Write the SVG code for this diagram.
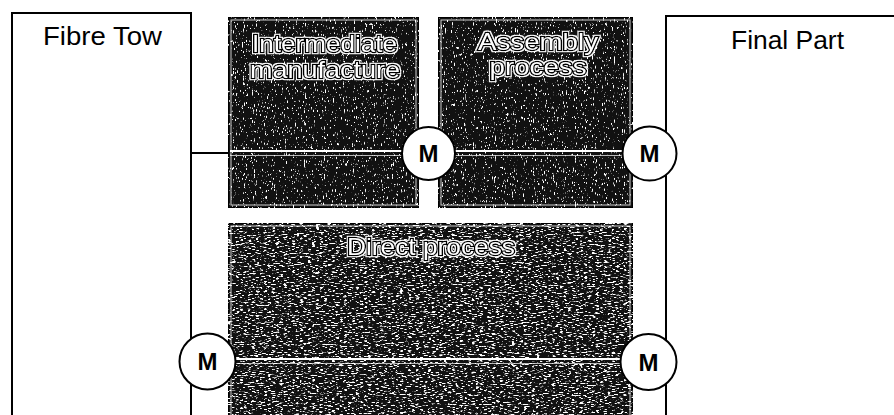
<svg xmlns="http://www.w3.org/2000/svg" width="894" height="415" viewBox="0 0 894 415">
<defs>
<filter id="grain" x="0" y="0" width="100%" height="100%" color-interpolation-filters="sRGB">
<feTurbulence type="fractalNoise" baseFrequency="0.9 0.3" numOctaves="2" seed="4" result="n"/>
<feColorMatrix in="n" type="matrix" values="0 0 0 0 1  0 0 0 0 1  0 0 0 0 1  10 0 0 0 -6.3" result="w"/>
<feComposite in="w" in2="SourceGraphic" operator="in" result="wc"/>
<feMerge><feMergeNode in="SourceGraphic"/><feMergeNode in="wc"/></feMerge>
</filter>
<filter id="grain2" x="0" y="0" width="100%" height="100%" color-interpolation-filters="sRGB">
<feTurbulence type="fractalNoise" baseFrequency="0.25 0.9" numOctaves="2" seed="9" result="n"/>
<feColorMatrix in="n" type="matrix" values="0 0 0 0 1  0 0 0 0 1  0 0 0 0 1  9 0 0 0 -5.0" result="w"/>
<feComposite in="w" in2="SourceGraphic" operator="in" result="wc"/>
<feMerge><feMergeNode in="SourceGraphic"/><feMergeNode in="wc"/></feMerge>
</filter>
<filter id="halo" x="-5%" y="-20%" width="110%" height="140%">
<feMorphology in="SourceAlpha" operator="dilate" radius="1.3" result="d"/>
<feFlood flood-color="#fff"/>
<feComposite in2="d" operator="in" result="h"/>
<feMerge><feMergeNode in="h"/><feMergeNode in="SourceGraphic"/></feMerge>
</filter>
</defs>
<style>
.plain{fill:#fff;stroke:#000;stroke-width:2}
.dark{fill:#111;stroke:#000;stroke-width:2}
.inner{fill:none;stroke:#fff;stroke-width:1;opacity:0.8}
.lbl{font-family:"Liberation Sans",Arial,sans-serif;font-size:25px;fill:#000;text-anchor:middle}
.wl{font-family:"Liberation Sans",Arial,sans-serif;font-size:24px;fill:#fff;stroke:#000;stroke-width:2.6;paint-order:stroke;text-anchor:middle;filter:url(#halo)}
.conn{stroke:#000;stroke-width:2;fill:none}
.inline{stroke:#fff;stroke-width:2;fill:none}
.inline2{stroke:#fff;stroke-width:1;fill:none;opacity:0.7}
.mc{fill:#fff;stroke:#000;stroke-width:2}
.mt{font-family:"Liberation Sans",Arial,sans-serif;font-size:24px;font-weight:bold;fill:#000;text-anchor:middle}
</style>
<rect width="894" height="415" fill="#fff"/>

<g id="fibre-tow">
<rect class="plain" x="12" y="13" width="179" height="420"/>
<text class="lbl" x="102.5" y="45" textLength="119" lengthAdjust="spacingAndGlyphs">Fibre Tow</text>
</g>

<g id="final-part">
<rect class="plain" x="666" y="16" width="250" height="420"/>
<text class="lbl" x="787.5" y="49" textLength="113" lengthAdjust="spacingAndGlyphs">Final Part</text>
</g>

<g id="intermediate">
<rect class="dark" x="228" y="17" width="191" height="191" filter="url(#grain)"/>
<rect class="inner" x="231" y="20" width="185" height="185"/>
<text class="wl" x="324.5" y="52" textLength="145" lengthAdjust="spacingAndGlyphs">Intermediate</text>
<text class="wl" x="325" y="78" textLength="150" lengthAdjust="spacingAndGlyphs">manufacture</text>
</g>

<g id="assembly">
<rect class="dark" x="438" y="17" width="195" height="191" filter="url(#grain)"/>
<rect class="inner" x="441" y="20" width="189" height="185"/>
<text class="wl" x="538" y="50" textLength="120" lengthAdjust="spacingAndGlyphs">Assembly</text>
<text class="wl" x="538" y="75" textLength="97" lengthAdjust="spacingAndGlyphs">process</text>
</g>

<g id="direct">
<rect class="dark" x="228" y="223" width="405" height="210" filter="url(#grain2)"/>
<rect class="inner" x="231" y="226" width="399" height="200"/>
<text class="wl" x="431" y="255" textLength="168" lengthAdjust="spacingAndGlyphs">Direct process</text>
</g>

<g id="connectors">
<line class="conn" x1="191" y1="153" x2="229" y2="153"/>
<line class="inline" x1="230" y1="151" x2="418" y2="151"/>
<line class="inline2" x1="230" y1="155.5" x2="418" y2="155.5"/>
<line class="inline" x1="440" y1="151" x2="631" y2="151"/>
<line class="inline2" x1="440" y1="155.5" x2="631" y2="155.5"/>
<line class="inline" x1="230" y1="359" x2="631" y2="359"/>
<line class="inline2" x1="230" y1="363.5" x2="631" y2="363.5"/>
</g>

<g id="m-intermediate">
<circle class="mc" cx="428.5" cy="153.5" r="26.5"/>
<text class="mt" x="428.5" y="162">M</text>
</g>
<g id="m-assembly">
<circle class="mc" cx="649.5" cy="153.5" r="27"/>
<text class="mt" x="649.5" y="162">M</text>
</g>
<g id="m-direct-in">
<circle class="mc" cx="207.5" cy="361.5" r="28"/>
<text class="mt" x="207.5" y="370">M</text>
</g>
<g id="m-direct-out">
<circle class="mc" cx="648.5" cy="362" r="28"/>
<text class="mt" x="648.5" y="370.5">M</text>
</g>
</svg>
